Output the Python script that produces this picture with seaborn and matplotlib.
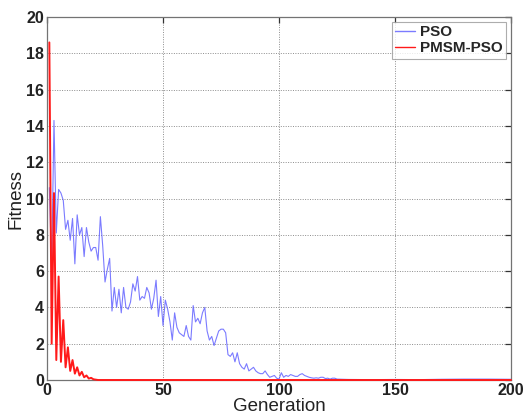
import numpy as np
import pandas as pd
import matplotlib
matplotlib.use("Agg")
import matplotlib.pyplot as plt
import seaborn as sns

# ---------------------------------------------------------------------
# Dados (fitness por geração)
# ---------------------------------------------------------------------
pso_fitness = [
    10.6, 6.2, 14.3, 8.1, 10.5, 10.3, 9.9, 8.3, 8.8, 7.7,
    8.9, 6.4, 9.1, 8.0, 8.4, 6.8, 8.4, 7.6, 7.1, 7.3,
    7.3, 6.6, 9.0, 7.4, 5.4, 6.1, 6.7, 3.8, 5.1, 4.0,
    5.0, 3.7, 5.1, 4.0, 3.9, 4.3, 5.3, 4.9, 5.7, 4.4,
    4.6, 4.5, 5.1, 4.8, 3.9, 4.5, 5.5, 3.5, 4.6, 3.0,
    4.4, 3.9, 3.2, 2.2, 3.7, 2.9, 2.6, 2.5, 2.4, 3.0,
    2.4, 2.2, 4.1, 3.2, 3.4, 3.1, 3.7, 4.0, 2.7, 2.2,
    2.4, 1.9, 2.3, 2.7, 2.8, 2.8, 2.6, 1.4, 1.3, 1.5,
    1.0, 1.5, 0.9, 0.7, 0.6, 0.9, 0.5, 0.6, 0.7, 0.5,
    0.4, 0.35, 0.35, 0.5, 0.3, 0.15, 0.2, 0.25, 0.1, 0.05,
    0.4, 0.15, 0.25, 0.2, 0.3, 0.25, 0.2, 0.2, 0.3, 0.35,
    0.25, 0.2, 0.15, 0.12, 0.1, 0.12, 0.1, 0.15, 0.15, 0.08,
    0.1, 0.05, 0.1, 0.1, 0.05,
    0.03, 0.02, 0.03, 0.02, 0.04, 0.05, 0.05, 0.04,
]
pso_geracao = list(range(1, 126)) + [130, 140, 150, 160, 170, 180, 190, 200]

pmsm_fitness = [
    18.6, 2.0, 10.3, 1.1, 5.7, 1.0, 3.3, 0.7, 1.8, 0.5,
    1.1, 0.35, 0.7, 0.25, 0.45, 0.15, 0.25, 0.08, 0.12, 0.04,
    0.02, 0.0, 0.0,
]
pmsm_geracao = list(range(1, 23)) + [200]

df = pd.concat([
    pd.DataFrame({"Generation": pso_geracao, "Fitness": pso_fitness, "metodo": "PSO"}),
    pd.DataFrame({"Generation": pmsm_geracao, "Fitness": pmsm_fitness, "metodo": "PMSM-PSO"}),
])

# ---------------------------------------------------------------------
# Figura no estilo MATLAB
# ---------------------------------------------------------------------
sns.set_style("white")
plt.rcParams["font.family"] = ["Liberation Sans", "DejaVu Sans"]

fig = plt.figure(figsize=(5.23, 4.18), dpi=100)
ax = fig.add_axes([0.0899, 0.0909, 0.8872, 0.8684])

sns.lineplot(data=df[df.metodo == "PSO"], x="Generation", y="Fitness",
             color="#5a5aff", linewidth=0.8, alpha=0.8, ax=ax, label="PSO")
sns.lineplot(data=df[df.metodo == "PMSM-PSO"], x="Generation", y="Fitness",
             color="#ff1a1a", linewidth=1.4, ax=ax, label="PMSM-PSO")
# a linha vermelha em zero fica por cima do eixo, como no original
ax.lines[-1].set_clip_on(False)
ax.lines[-1].set_zorder(5)

ax.set_xlim(0, 200)
ax.set_ylim(0, 20)
ax.set_xticks([0, 50, 100, 150, 200])
ax.set_yticks(np.arange(0, 21, 2))
ax.grid(True, linestyle=(0, (1, 1.5)), color="0.55", linewidth=0.7)

for s in ax.spines.values():
    s.set_color("0.45")
    s.set_linewidth(0.9)

ax.tick_params(direction="in", length=4, width=0.9, color="0.2",
               top=True, right=True, labelsize=11.5, pad=2)
for lbl in ax.get_xticklabels() + ax.get_yticklabels():
    lbl.set_fontweight("bold")
    lbl.set_color("#222222")

ax.set_xlabel("Generation", fontsize=13.5, labelpad=0, color="#222222")
ax.set_ylabel("Fitness", fontsize=13.5, labelpad=1, color="#222222")

leg = ax.legend(loc="upper right", fontsize=11, frameon=True, fancybox=False,
                handlelength=1.3, borderpad=0.25, labelspacing=0.1,
                handletextpad=0.3, borderaxespad=0.3)
leg.get_frame().set_edgecolor("0.6")
leg.get_frame().set_linewidth(0.8)
for t in leg.get_texts():
    t.set_fontweight("bold")
for h in leg.get_lines():
    h.set_linewidth(1.0)

fig.savefig("out.png", dpi=100)
